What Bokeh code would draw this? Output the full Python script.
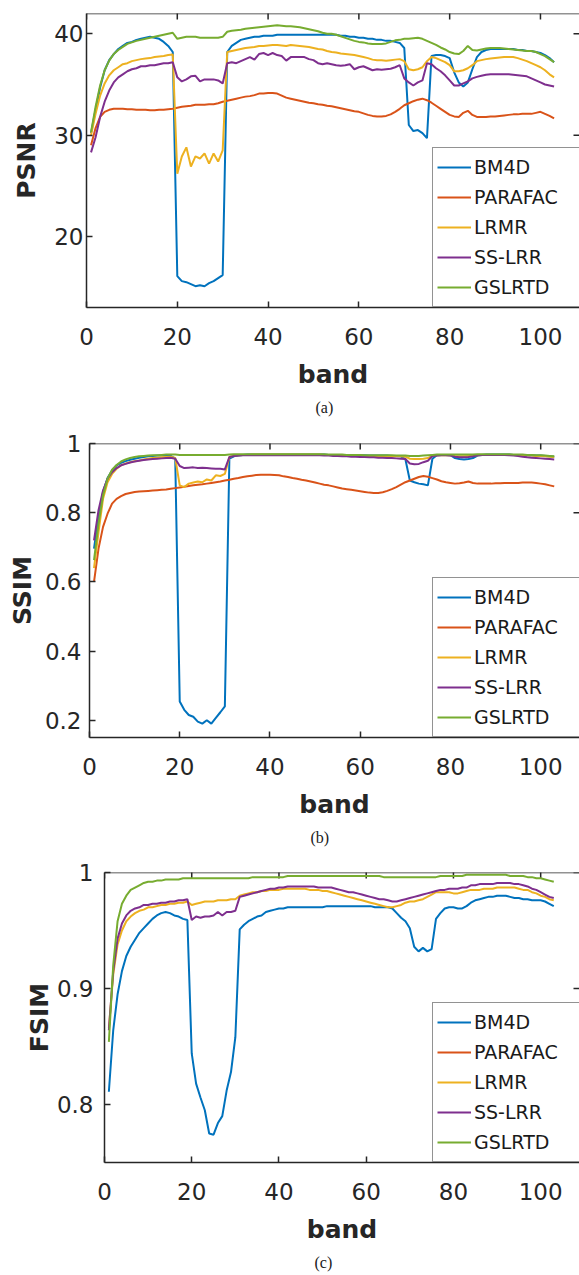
import math
import numpy as np
from bokeh.plotting import figure
from bokeh.models import (Range1d, FixedTicker, PrintfTickFormatter,
                          Legend, LegendItem, Title, Span)
from bokeh.layouts import column, row
from bokeh.embed import file_html
from bokeh.resources import INLINE

# ---------------- data ----------------
bands = list(range(1, 104))
methods = ["BM4D", "PARAFAC", "LRMR", "SS-LRR", "GSLRTD"]
colors = ["#0072BD", "#D95319", "#EDB120", "#7E2F8E", "#77AC30"]

x_ticks = [0, 20, 40, 60, 80, 100]
psnr_ticks = [20, 30, 40]
ssim_ticks = [0.2, 0.4, 0.6, 0.8, 1.0]
fsim_ticks = [0.8, 0.9, 1.0]

# (a) PSNR
BM4D_psnr = [30.2, 32.5, 34.7, 36.4, 37.4, 38.0, 38.5, 38.8, 39.1, 39.2,
             39.4, 39.5, 39.6, 39.7, 39.6, 39.5, 39.2, 38.8, 38.2, 16.1,
             15.6, 15.5, 15.3, 15.1, 15.2, 15.1, 15.4, 15.6, 15.9, 16.2,
             38.2, 38.8, 39.1, 39.4, 39.5, 39.6, 39.7, 39.7, 39.8, 39.8,
             39.8, 39.9, 39.9, 39.9, 39.9, 39.9, 39.9, 39.9, 39.9, 39.9,
             39.9, 39.9, 39.9, 39.9, 39.9, 39.8, 39.8, 39.7, 39.7, 39.6,
             39.6, 39.5, 39.5, 39.4, 39.4, 39.3, 39.3, 39.2, 39.1, 38.6,
             31.0, 30.4, 30.5, 30.2, 29.7, 37.8, 37.9, 37.9, 37.8, 37.6,
             36.2, 35.2, 34.8, 35.2, 36.5, 37.7, 38.2, 38.4, 38.5, 38.5,
             38.5, 38.5, 38.5, 38.5, 38.4, 38.4, 38.3, 38.3, 38.2, 38.1,
             37.9, 37.6, 37.2]
PARAFAC_psnr = [29.0, 30.7, 31.8, 32.3, 32.5, 32.6, 32.6, 32.6, 32.55, 32.55,
                32.5, 32.5, 32.5, 32.45, 32.45, 32.5, 32.5, 32.55, 32.6, 32.7,
                32.8, 32.85, 32.9, 33.0, 33.0, 33.0, 33.05, 33.05, 33.15, 33.3,
                33.4, 33.5, 33.6, 33.7, 33.8, 33.85, 33.95, 34.1, 34.1, 34.15,
                34.15, 34.1, 33.9, 33.7, 33.6, 33.5, 33.4, 33.3, 33.2, 33.15,
                33.05, 33.0, 32.9, 32.85, 32.75, 32.65, 32.55, 32.45, 32.35, 32.3,
                32.15, 32.0, 31.9, 31.85, 31.85, 31.9, 32.05, 32.3, 32.6, 32.95,
                33.15, 33.35, 33.5, 33.6, 33.45, 33.2, 32.9, 32.6, 32.3, 32.0,
                31.85, 31.8, 32.2, 32.4, 32.0, 31.8, 31.8, 31.8, 31.85, 31.85,
                31.9, 31.95, 32.0, 32.05, 32.05, 32.1, 32.1, 32.1, 32.2, 32.3,
                32.1, 31.9, 31.65]
LRMR_psnr = [30.0, 32.1, 33.9, 35.1, 35.9, 36.4, 36.7, 37.0, 37.1, 37.3,
             37.4, 37.5, 37.55, 37.6, 37.7, 37.75, 37.8, 37.9, 37.95, 26.2,
             27.9, 28.8, 26.9, 27.9, 27.7, 28.2, 27.2, 28.2, 27.4, 28.5,
             38.2, 38.3, 38.4, 38.5, 38.6, 38.65, 38.7, 38.8, 38.8, 38.85,
             38.9, 38.9, 38.85, 38.8, 38.9, 38.85, 38.8, 38.75, 38.7, 38.6,
             38.5, 38.45, 38.3, 38.2, 38.15, 38.05, 38.0, 37.95, 37.9, 37.8,
             37.7, 37.6, 37.45, 37.4, 37.4, 37.35, 37.4, 37.45, 37.5, 37.3,
             36.5, 36.4, 36.5, 36.7, 37.3, 37.7, 37.6, 37.4, 37.2, 36.9,
             36.3, 36.3, 36.4, 36.6, 36.9, 37.3, 37.4, 37.5, 37.55, 37.6,
             37.65, 37.7, 37.7, 37.7, 37.6, 37.45, 37.3, 37.1, 36.9, 36.7,
             36.4, 36.0, 35.7]
SSLRR_psnr = [28.3, 29.8, 31.8, 33.3, 34.4, 35.2, 35.7, 36.0, 36.3, 36.5,
              36.6, 36.8, 36.8, 36.9, 36.9, 37.0, 37.1, 37.1, 37.2, 35.7,
              35.3, 35.5, 35.8, 35.85, 35.3, 35.5, 35.5, 35.5, 35.4, 35.1,
              37.1, 37.2, 37.1, 37.3, 37.5, 37.7, 37.45, 38.0, 38.1, 37.9,
              38.1, 37.9, 37.8, 37.35, 37.7, 37.7, 37.7, 37.7, 37.5, 37.4,
              37.1, 37.0, 37.1, 37.0, 36.9, 36.85, 36.9, 37.0, 36.5, 36.7,
              36.8, 36.6, 36.4, 36.5, 36.45, 36.5, 36.55, 36.7, 36.9, 35.6,
              35.2, 34.9, 35.2, 35.4, 37.1, 37.0, 36.6, 36.3, 35.9, 35.4,
              34.9, 34.9, 35.1, 35.3, 35.6, 35.75, 35.85, 35.95, 36.0, 36.0,
              36.0, 36.0, 36.0, 35.95, 35.9, 35.85, 35.8, 35.6, 35.4, 35.2,
              35.0, 34.9, 34.8]
GSLRTD_psnr = [30.3, 32.8, 34.9, 36.4, 37.35, 38.0, 38.4, 38.7, 39.0, 39.15,
               39.3, 39.4, 39.5, 39.6, 39.7, 39.8, 39.9, 40.0, 40.1, 39.5,
               39.6, 39.7, 39.7, 39.7, 39.6, 39.6, 39.6, 39.6, 39.6, 39.7,
               40.2, 40.3, 40.35, 40.4, 40.5, 40.55, 40.6, 40.65, 40.7, 40.75,
               40.8, 40.85, 40.8, 40.75, 40.75, 40.7, 40.65, 40.55, 40.45, 40.35,
               40.25, 40.1, 40.0, 40.0, 39.9, 39.75, 39.6, 39.45, 39.3, 39.2,
               39.15, 39.05, 39.0, 39.0, 39.0, 39.05, 39.2, 39.35, 39.4, 39.5,
               39.5, 39.55, 39.6, 39.5, 39.3, 39.1, 38.9, 38.65, 38.45, 38.2,
               38.05, 38.0, 38.3, 38.8, 38.4, 38.35, 38.45, 38.55, 38.6, 38.6,
               38.6, 38.55, 38.5, 38.45, 38.4, 38.35, 38.3, 38.3, 38.2, 38.0,
               37.8, 37.5, 37.2]

# (b) SSIM
BM4D_ssim = [0.696, 0.79, 0.86, 0.90, 0.922, 0.937, 0.944, 0.949, 0.953, 0.956,
             0.959, 0.961, 0.963, 0.964, 0.965, 0.965, 0.965, 0.964, 0.956, 0.254,
             0.23, 0.215, 0.21, 0.196, 0.19, 0.2, 0.19, 0.207, 0.223, 0.24,
             0.956, 0.963, 0.965, 0.967, 0.968, 0.968, 0.968, 0.968, 0.968, 0.968,
             0.968, 0.968, 0.968, 0.968, 0.968, 0.968, 0.968, 0.968, 0.968, 0.968,
             0.968, 0.968, 0.967, 0.967, 0.967, 0.967, 0.966, 0.966, 0.966, 0.966,
             0.966, 0.965, 0.965, 0.965, 0.965, 0.965, 0.964, 0.964, 0.963, 0.955,
             0.893, 0.888, 0.884, 0.882, 0.879, 0.956, 0.966, 0.967, 0.967, 0.966,
             0.958, 0.955, 0.954, 0.955, 0.958, 0.965, 0.967, 0.968, 0.968, 0.968,
             0.968, 0.968, 0.968, 0.967, 0.967, 0.967, 0.966, 0.966, 0.965, 0.965,
             0.964, 0.963, 0.962]
PARAFAC_ssim = [0.60, 0.696, 0.759, 0.797, 0.826, 0.84, 0.848, 0.854, 0.857, 0.86,
                0.861, 0.862, 0.863, 0.864, 0.865, 0.866, 0.867, 0.869, 0.871, 0.873,
                0.875, 0.877, 0.879, 0.881, 0.882, 0.884, 0.886, 0.888, 0.890, 0.893,
                0.895, 0.898, 0.90, 0.903, 0.905, 0.907, 0.909, 0.91, 0.91, 0.91,
                0.909, 0.908, 0.905, 0.903, 0.90, 0.898, 0.895, 0.893, 0.89, 0.887,
                0.884, 0.881, 0.879, 0.876, 0.873, 0.87, 0.868, 0.866, 0.864, 0.862,
                0.86, 0.858, 0.857, 0.857, 0.859, 0.863, 0.868, 0.874, 0.881, 0.888,
                0.893, 0.898, 0.903, 0.906, 0.904, 0.90, 0.896, 0.891, 0.888, 0.886,
                0.884, 0.885, 0.887, 0.89, 0.886, 0.884, 0.884, 0.884, 0.884, 0.885,
                0.885, 0.886, 0.886, 0.886, 0.886, 0.887, 0.887, 0.887, 0.886, 0.884,
                0.882, 0.879, 0.876]
LRMR_ssim = [0.64, 0.744, 0.84, 0.888, 0.912, 0.927, 0.937, 0.942, 0.946, 0.949,
             0.951, 0.954, 0.956, 0.958, 0.959, 0.96, 0.961, 0.962, 0.958, 0.879,
             0.874, 0.884, 0.887, 0.89, 0.888, 0.896, 0.893, 0.908, 0.906, 0.912,
             0.961, 0.965, 0.966, 0.967, 0.967, 0.968, 0.968, 0.968, 0.968, 0.968,
             0.968, 0.968, 0.968, 0.968, 0.968, 0.968, 0.968, 0.968, 0.968, 0.968,
             0.968, 0.967, 0.967, 0.967, 0.966, 0.966, 0.966, 0.965, 0.965, 0.965,
             0.964, 0.964, 0.963, 0.963, 0.963, 0.963, 0.963, 0.963, 0.963, 0.962,
             0.956, 0.955, 0.955, 0.956, 0.958, 0.965, 0.966, 0.966, 0.966, 0.966,
             0.964, 0.963, 0.963, 0.964, 0.965, 0.966, 0.967, 0.967, 0.967, 0.967,
             0.967, 0.967, 0.967, 0.967, 0.966, 0.966, 0.965, 0.965, 0.964, 0.964,
             0.963, 0.962, 0.961]
SSLRR_ssim = [0.72, 0.807, 0.864, 0.898, 0.917, 0.929, 0.937, 0.941, 0.945, 0.948,
              0.950, 0.952, 0.954, 0.955, 0.956, 0.957, 0.958, 0.959, 0.956, 0.935,
              0.929, 0.930, 0.931, 0.929, 0.930, 0.929, 0.928, 0.927, 0.927, 0.925,
              0.961, 0.964, 0.965, 0.966, 0.966, 0.966, 0.966, 0.966, 0.966, 0.966,
              0.966, 0.966, 0.966, 0.966, 0.966, 0.966, 0.966, 0.966, 0.966, 0.966,
              0.966, 0.965, 0.965, 0.964, 0.964, 0.963, 0.963, 0.962, 0.962, 0.961,
              0.961, 0.960, 0.960, 0.959, 0.959, 0.958, 0.958, 0.957, 0.956, 0.955,
              0.942, 0.940, 0.941, 0.946, 0.950, 0.964, 0.965, 0.966, 0.966, 0.965,
              0.962, 0.960, 0.960, 0.961, 0.963, 0.966, 0.967, 0.967, 0.967, 0.967,
              0.967, 0.967, 0.966, 0.965, 0.964, 0.962, 0.960, 0.959, 0.958, 0.957,
              0.956, 0.955, 0.954]
GSLRTD_ssim = [0.663, 0.768, 0.85, 0.898, 0.924, 0.938, 0.948, 0.954, 0.958, 0.961,
               0.963, 0.964, 0.965, 0.966, 0.966, 0.967, 0.968, 0.968, 0.968, 0.967,
               0.967, 0.967, 0.967, 0.967, 0.967, 0.967, 0.967, 0.967, 0.967, 0.967,
               0.968, 0.969, 0.969, 0.969, 0.969, 0.969, 0.969, 0.969, 0.969, 0.969,
               0.969, 0.969, 0.969, 0.969, 0.969, 0.969, 0.969, 0.969, 0.969, 0.969,
               0.969, 0.969, 0.968, 0.968, 0.968, 0.968, 0.967, 0.967, 0.967, 0.967,
               0.966, 0.966, 0.966, 0.966, 0.966, 0.966, 0.966, 0.965, 0.965, 0.965,
               0.964, 0.964, 0.964, 0.965, 0.966, 0.967, 0.968, 0.968, 0.968, 0.968,
               0.968, 0.968, 0.968, 0.968, 0.968, 0.969, 0.969, 0.969, 0.969, 0.969,
               0.969, 0.969, 0.969, 0.968, 0.968, 0.968, 0.967, 0.967, 0.966, 0.966,
               0.965, 0.964, 0.963]

# (c) FSIM
BM4D_fsim = [0.811, 0.864, 0.895, 0.915, 0.928, 0.936, 0.942, 0.948, 0.952, 0.956,
             0.960, 0.963, 0.965, 0.966, 0.965, 0.963, 0.962, 0.960, 0.959, 0.844,
             0.818, 0.806, 0.795, 0.775, 0.774, 0.784, 0.79, 0.812, 0.828, 0.858,
             0.951, 0.955, 0.958, 0.960, 0.962, 0.963, 0.966, 0.967, 0.968, 0.969,
             0.969, 0.970, 0.970, 0.970, 0.970, 0.970, 0.970, 0.970, 0.970, 0.970,
             0.971, 0.971, 0.971, 0.971, 0.971, 0.971, 0.971, 0.971, 0.971, 0.971,
             0.971, 0.970, 0.970, 0.970, 0.970, 0.969, 0.965, 0.961, 0.958, 0.952,
             0.936, 0.932, 0.935, 0.932, 0.934, 0.96, 0.965, 0.969, 0.970, 0.970,
             0.969, 0.969, 0.971, 0.974, 0.976, 0.977, 0.978, 0.979, 0.979, 0.980,
             0.980, 0.980, 0.979, 0.978, 0.978, 0.977, 0.977, 0.976, 0.976, 0.976,
             0.975, 0.973, 0.971]
# PARAFAC's FSIM curve lies below the 0.75 axis floor: nothing of it is visible,
# only its legend entry, so its value is left unknown (NaN).
PARAFAC_fsim = [float("nan")]
LRMR_fsim = [0.866, 0.912, 0.938, 0.950, 0.958, 0.962, 0.965, 0.967, 0.968, 0.970,
             0.970, 0.971, 0.972, 0.972, 0.973, 0.973, 0.974, 0.974, 0.975, 0.972,
             0.973, 0.974, 0.975, 0.975, 0.975, 0.976, 0.976, 0.976, 0.977, 0.977,
             0.980, 0.981, 0.982, 0.983, 0.983, 0.984, 0.984, 0.985, 0.985, 0.985,
             0.986, 0.986, 0.986, 0.986, 0.986, 0.986, 0.985, 0.985, 0.985, 0.984,
             0.984, 0.983, 0.982, 0.981, 0.980, 0.979, 0.978, 0.977, 0.976, 0.975,
             0.974, 0.973, 0.972, 0.971, 0.970, 0.970, 0.971, 0.972, 0.974, 0.975,
             0.975, 0.976, 0.977, 0.979, 0.981, 0.983, 0.983, 0.983, 0.983, 0.982,
             0.982, 0.983, 0.984, 0.985, 0.985, 0.985, 0.986, 0.986, 0.986, 0.987,
             0.987, 0.987, 0.987, 0.987, 0.986, 0.985, 0.985, 0.983, 0.982, 0.980,
             0.979, 0.977, 0.976]
SSLRR_fsim = [0.864, 0.915, 0.943, 0.956, 0.963, 0.967, 0.969, 0.970, 0.972, 0.972,
              0.973, 0.973, 0.974, 0.974, 0.975, 0.975, 0.976, 0.976, 0.977, 0.959,
              0.962, 0.961, 0.962, 0.962, 0.963, 0.966, 0.963, 0.966, 0.966, 0.967,
              0.979, 0.980, 0.981, 0.982, 0.983, 0.984, 0.985, 0.986, 0.986, 0.987,
              0.987, 0.988, 0.988, 0.988, 0.988, 0.988, 0.988, 0.988, 0.987, 0.987,
              0.987, 0.987, 0.986, 0.985, 0.984, 0.983, 0.983, 0.982, 0.981, 0.980,
              0.979, 0.978, 0.977, 0.977, 0.976, 0.975, 0.975, 0.976, 0.977, 0.978,
              0.979, 0.980, 0.981, 0.982, 0.983, 0.984, 0.985, 0.985, 0.986, 0.986,
              0.986, 0.987, 0.987, 0.989, 0.989, 0.990, 0.990, 0.990, 0.990, 0.991,
              0.991, 0.991, 0.991, 0.990, 0.990, 0.989, 0.988, 0.986, 0.985, 0.983,
              0.981, 0.979, 0.978]
GSLRTD_fsim = [0.854, 0.920, 0.958, 0.973, 0.980, 0.985, 0.987, 0.989, 0.991, 0.992,
               0.992, 0.993, 0.993, 0.994, 0.994, 0.994, 0.994, 0.995, 0.995, 0.995,
               0.995, 0.995, 0.995, 0.995, 0.995, 0.995, 0.995, 0.995, 0.995, 0.995,
               0.995, 0.995, 0.995, 0.996, 0.996, 0.996, 0.996, 0.996, 0.996, 0.996,
               0.996, 0.997, 0.997, 0.997, 0.997, 0.997, 0.997, 0.997, 0.997, 0.997,
               0.997, 0.997, 0.997, 0.997, 0.997, 0.997, 0.997, 0.997, 0.997, 0.997,
               0.997, 0.997, 0.997, 0.996, 0.996, 0.996, 0.996, 0.996, 0.996, 0.996,
               0.996, 0.996, 0.996, 0.996, 0.996, 0.996, 0.997, 0.997, 0.997, 0.997,
               0.997, 0.997, 0.998, 0.998, 0.998, 0.998, 0.998, 0.998, 0.998, 0.998,
               0.998, 0.998, 0.997, 0.997, 0.997, 0.997, 0.996, 0.996, 0.995, 0.995,
               0.994, 0.993, 0.992]

# ---------------- drawing ----------------
AX = "#262626"
FONT = "DejaVu Sans"


def style_axis(ax, ticks, standoff):
    ax.ticker = FixedTicker(ticks=ticks)
    ax.formatter = PrintfTickFormatter(format="%g")
    ax.axis_line_color = AX
    ax.axis_line_width = 1.5
    ax.major_tick_line_color = AX
    ax.major_tick_line_width = 1.5
    ax.major_tick_in = 6
    ax.major_tick_out = 0
    ax.minor_tick_line_color = None
    ax.major_label_text_font = FONT
    ax.major_label_text_color = AX
    ax.major_label_text_font_size = "23px"
    ax.major_label_standoff = standoff
    ax.axis_label_text_font = FONT
    ax.axis_label_text_font_style = "bold"
    ax.axis_label_text_font_size = "25px"
    ax.axis_label_text_color = AX


def make_panel(series, ylabel, yr, yticks, x_end, height, left, top, bottom,
               caption, cap_offset, ytick_standoff, ylab_standoff):
    p = figure(width=579, height=height, output_backend="svg", toolbar_location=None,
               x_range=Range1d(0, x_end), y_range=Range1d(*yr),
               min_border_left=left, min_border_right=0,
               min_border_top=top, min_border_bottom=bottom)
    p.outline_line_color = None
    p.xgrid.visible = False
    p.ygrid.visible = False
    p.background_fill_color = "white"
    p.border_fill_color = "white"

    xax = p.below[0]
    yax = p.left[0]
    style_axis(xax, x_ticks, 20)
    style_axis(yax, yticks, ytick_standoff)
    xax.axis_label = "band"
    xax.axis_label_standoff = 12
    yax.axis_label = ylabel
    yax.axis_label_standoff = ylab_standoff

    # top edge of the box and the inward ticks on the top and right edges
    p.add_layout(Span(location=yr[1], dimension="width", line_color=AX, line_width=1.5))
    p.scatter(x_ticks, [yr[1]] * len(x_ticks), marker="dash", angle=math.pi / 2,
              size=12, line_color=AX, line_width=1.5)
    p.scatter([x_end] * len(yticks), yticks, marker="dash", angle=0,
              size=12, line_color=AX, line_width=1.5)

    items = []
    for name, col, ys in zip(methods, colors, series):
        xs = bands[:len(ys)]
        r = p.line(xs, np.array(ys, dtype=float), line_color=col, line_width=2)
        items.append(LegendItem(label=name, renderers=[r]))

    legend = Legend(items=items, location=(432 - left, 0), margin=0, padding=4,
                    spacing=0, glyph_width=34, glyph_height=30, label_height=30,
                    label_width=130, label_standoff=3,
                    label_text_font=FONT, label_text_font_size="19px",
                    label_text_color="#1a1a1a",
                    border_line_color=AX, border_line_width=1.5,
                    background_fill_color="white", background_fill_alpha=1.0)
    p.add_layout(legend)

    cap = Title(text=caption, align="left", offset=cap_offset,
                text_font="Liberation Serif", text_font_size="16px",
                text_font_style="normal", text_color="#1a1a1a")
    p.add_layout(cap, "below")
    return p


pa = make_panel([BM4D_psnr, PARAFAC_psnr, LRMR_psnr, SSLRR_psnr, GSLRTD_psnr],
                "PSNR", (13, 42), psnr_ticks, 108.6, 420, 86, 13, 112,
                "(a)", 229, 3, 10)
pb = make_panel([BM4D_ssim, PARAFAC_ssim, LRMR_ssim, SSLRR_ssim, GSLRTD_ssim],
                "SSIM", (0.15, 1.0), ssim_ticks, 108.6, 430, 89, 23, 112,
                "(b)", 221, 8, 5)
pc = make_panel([BM4D_fsim, PARAFAC_fsim, LRMR_fsim, SSLRR_fsim, GSLRTD_fsim],
                "FSIM", (0.75, 1.0), fsim_ticks, 108.9, 425, 104, 22, 110,
                "(c)", 210, 11, 0)

layout = column(row(pa), row(pb), row(pc))
open("out.html", "w").write(file_html(layout, INLINE))
